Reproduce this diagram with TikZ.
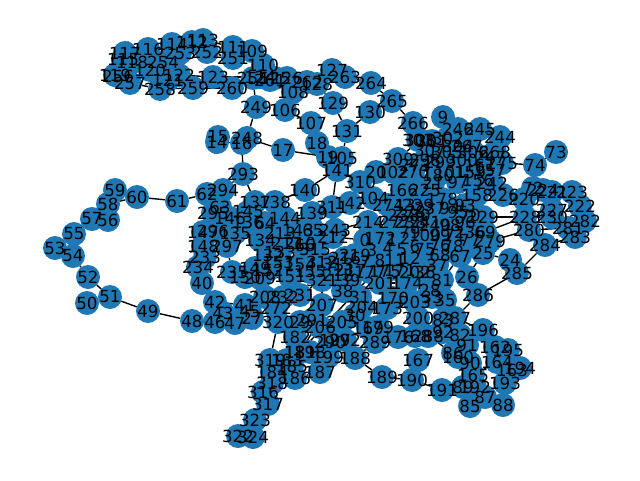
\documentclass[tikz,border=0pt]{standalone}
\usepackage{fontspec}
\setmainfont{DejaVu Sans}
\usetikzlibrary{backgrounds}
\definecolor{vertblue}{HTML}{1F78B4}
% label/x/y of every vertex, in pixels of the picture
\newcommand{\vertlist}{%
109/252/51,110/263/65,111/233/47,112/192/42,113/203/40,114/172/44,115/123/60,116/148/49,117/125/53,118/132/62,
119/115/75,120/150/70,121/168/80,122/179/75,123/213/77,124/260/77,125/275/78,126/287/78,127/332/70,128/317/84,
129/333/103,130/370/112,131/347/131,251/233/58,252/207/52,253/180/53,254/163/62,255/253/78,256/118/76,257/130/83,
258/160/89,259/193/88,260/232/88,261/270/80,262/307/82,263/345/77,264/371/83,265/392/101,266/413/123,249/256/107,
106/285/110,107/311/123,108/293/92,248/247/138,14/217/142,15/218/137,16/242/143,17/283/150,18/317/143,19/328/157,
105/342/158,141/337/170,
9/443/117,246/458/129,245/480/129,244/500/137,73/556/152,74/535/165,275/502/163,268/495/152,247/490/157,306/473/152,
267/467/146,157/490/171,242/492/183,97/458/182,158/477/195,226/503/195,220/524/199,72/533/188,224/543/190,221/552/192,
223/572/192,222/580/206,227/552/210,230/552/217,228/525/217,282/585/221,281/568/228,283/575/237,284/545/245,280/529/230,
229/483/217,69/485/232,279/490/241,25/483/253,24/510/260,285/517/273,67/460/256,78/453/246,26/467/277,81/442/280,286/478/295,
59/115/190,58/108/204,60/137/197,61/177/201,57/92/219,56/108/220,55/74/234,53/55/248,54/73/256,52/88/277,51/110/297,
50/87/303,49/148/311,48/192/321,
293/243/174,62/207/194,294/223/190,137/255/202,138/275/202,140/305/190,145/248/212,63/220/207,295/213/213,146/230/218,
136/248/222,64/265/223,144/285/218,139/312/213,296/213/231,147/203/232,135/235/233,148/203/246,297/227/246,233/205/257,
234/198/267,134/260/240,213/280/233,211/287/243,235/232/272,40/202/283,132/268/255,133/280/252,150/245/277,209/260/278,
151/290/277,149/255/268,152/268/270,153/278/262,154/300/265,155/310/272,312/322/262,313/338/264,210/300/243,212/333/237,
243/335/230,216/345/258,217/350/270,218/338/275,219/355/255,143/298/230,65/313/230,66/305/245,315/315/249,
310/360/182,104/373/198,311/332/207,142/350/203,214/368/222,
303/418/140,308/420/140,301/432/141,302/448/138,307/430/150,305/447/152,304/458/146,300/462/160,299/440/162,298/425/160,
273/415/165,270/413/172,20/376/172,102/393/172,309/398/159,180/438/175,101/450/172,159/470/172,161/480/165,156/478/180,
21/433/183,225/425/190,274/388/205,13/405/205,23/398/215,277/395/222,278/410/212,
0/365/240,172/380/238,1/392/240,2/405/238,3/372/250,4/388/248,5/402/250,6/415/246,7/365/262,8/380/260,11/395/260,
12/410/258,177/370/272,175/385/272,171/400/270,202/415/272,
178/442/199,240/435/225,241/425/222,100/425/235,99/440/235,98/450/225,96/465/222,95/458/212,94/450/208,93/465/205,
77/470/240,76/440/245,75/425/250,79/410/232,80/420/215,70/470/215,71/455/235,68/440/255,237/430/208,238/410/222,
239/418/205,236/470/232,181/408/195,166/402/190,
201/380/283,174/407/283,170/393/298,173/387/308,203/415/302,200/418/318,28/430/290,33/432/297,35/445/300,36/425/272,
37/437/265,39/350/280,38/343/291,31/360/297,204/362/307,30/355/315,205/342/322,206/320/327,169/368/328,179/378/327,
289/375/342,197/335/340,290/330/342,292/345/340,198/310/352,199/328/357,188/355/358,187/320/372,189/382/377,190/412/380,
167/418/360,168/415/336,176/398/337,288/428/336,207/322/305,321/322/280,291/312/320,29/300/322,320/278/322,182/295/337,
181/300/352,208/265/297,232/283/297,231/300/295,272/276/308,
42/215/302,41/245/305,43/223/313,46/215/322,47/235/323,45/250/312,27/252/318,
319/270/360,183/287/360,185/292/366,184/272/372,186/295/378,318/272/383,316/263/392,317/268/404,323/255/420,322/238/436,324/253/437,
287/455/318,196/483/330,83/443/320,92/443/332,82/460/335,91/467/345,162/495/347,195/508/350,164/497/362,160/458/357,
86/453/353,90/470/363,194/520/368,163/512/370,165/473/375,193/505/383,191/442/390,89/463/387,192/475/387,87/485/397,
85/470/406,88/503/405}
\begin{document}
\begin{tikzpicture}[x=1pt,y=-1pt,
    every node/.style={inner sep=0pt, outer sep=0pt},
    ]
\tikzset{
vert/.style={circle, fill=vertblue, minimum size=24pt},
lab/.style={font=\fontsize{16.67}{20}\selectfont, text=black},
link/.style={draw, line width=1.39pt},
}
\useasboundingbox (0,0) rectangle (640,480);
% -------------------------------------------------
% vertices first, labels after so that they stay on top of every disc
\foreach \lab/\px/\py in \vertlist
    \node [vert] (n\lab) at (\px,\py) {};
\foreach \lab/\px/\py in \vertlist
    \node [lab] (l\lab) at (n\lab) {\lab};
% -------------------------------------------------
% links go under the discs
\begin{scope}[on background layer]
\foreach \a/\b in {14/15,14/16,16/293,248/249,248/17,17/19,18/19,107/18,106/107,106/108,108/126,109/110,110/108,
    111/113,109/111,113/112,112/114,114/116,116/117,117/115,115/118,118/119,119/120,120/121,121/122,122/123,123/124,
    124/125,125/126,126/262,128/262,129/128,127/128,127/263,129/131,131/130,130/265,264/265,263/264,265/266,266/308,
    131/105,105/19,105/141,
    251/252,252/253,253/254,254/256,256/257,257/258,258/259,259/260,260/255,255/261,261/262,262/263,249/255,
    48/49,49/51,50/51,51/52,52/54,53/54,54/55,55/57,57/56,57/58,58/59,58/60,59/60,60/61,61/62,62/294,293/294,293/137,
    137/138,138/140,48/46,42/41,46/43,43/42,41/45,47/46,47/27,27/45,27/320,320/182,320/319,319/183,
    319/184,184/318,318/316,316/317,317/323,323/322,323/324,183/185,185/186,184/186,
    182/181,181/198,198/199,187/186,187/199,199/188,188/189,189/190,190/191,191/89,89/85,89/87,192/87,87/88,88/193,193/163,
    163/194,194/195,195/162,162/164,164/165,165/90,90/160,160/86,86/288,91/82,82/92,92/83,83/287,287/196,196/162,286/287,
    81/28,81/67,28/33,33/35,286/26,26/25,25/24,24/285,285/286,284/285,25/279,279/69,69/229,229/228,279/280,69/228,78/279,
    280/284,284/283,283/281,281/282,282/222,222/223,223/221,221/224,224/72,72/220,220/226,226/158,227/230,230/228,280/281,
    73/74,74/275,275/268,268/247,247/306,306/267,267/246,244/245,245/246,246/302,9/246,308/303,309/308,309/20,20/102,
    141/140,141/311,141/310,310/104,104/142,142/311,311/139,214/104,214/243,243/212,212/0,0/172,172/1,1/2,3/4,4/5,5/6,7/8,
    8/11,11/12,177/175,175/171,171/202,0/3,3/7,7/177,
    137/145,145/146,146/63,63/62,63/295,295/296,296/147,147/148,148/233,233/234,234/40,40/42,148/297,297/235,235/149,136/145,
    136/64,64/144,144/139,144/213,213/65,65/243,136/135,135/134,134/132,132/133,133/153,153/152,152/149,149/150,150/209,209/151,
    151/154,154/155,155/312,312/313,313/216,216/219,219/7,313/218,218/217,217/39,39/38,38/321,211/210,210/143,66/315,315/312,
    321/231,231/232,232/272,208/272,208/232,272/320,207/321,207/291,291/29,29/206,206/205,205/30,30/204,204/31,31/38,
    201/174,174/170,170/173,173/204,201/31,203/170,203/200,200/168,168/176,176/179,179/169,169/289,289/188,197/290,290/292,
    292/188,197/199,30/169,167/168,
    104/274,274/13,13/23,23/277,277/278,278/238,238/79,79/100,100/99,99/98,98/96,96/95,95/94,94/93,93/70,70/236,236/77,77/71,71/76,
    76/75,75/68,68/36,36/37,240/241,241/80,80/237,237/239,239/178,178/181,181/166,166/225,225/21,21/180,180/101,101/159,159/161,
    161/156,156/97,97/242,242/157,298/299,299/300,300/304,304/305,305/307,307/301,301/273,273/270,270/102,12/6,202/36}
    \draw [link] (n\a) -- (n\b);
\end{scope}
\end{tikzpicture}
\end{document}
